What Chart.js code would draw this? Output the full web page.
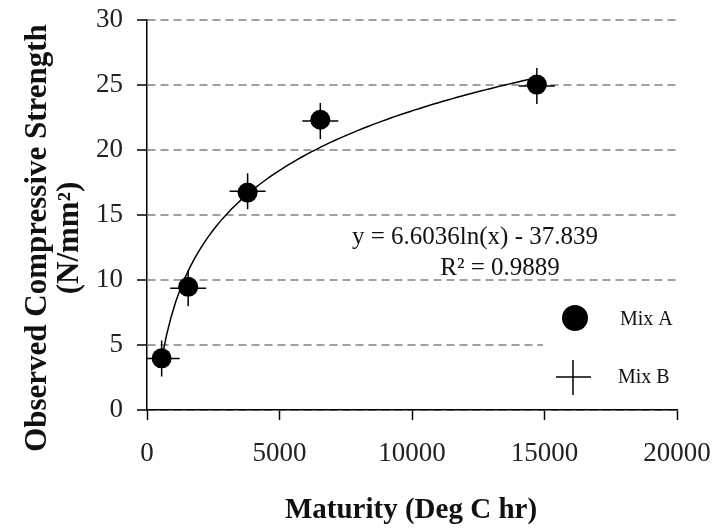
<!DOCTYPE html>
<html>
<head>
<meta charset="utf-8">
<script src="https://cdn.jsdelivr.net/npm/chart.js@4.4.1/dist/chart.umd.min.js"></script>
<style>
  body { margin: 0; background: #fff; }
  #wrap { width: 716px; height: 529px; }
</style>
</head>
<body>
<div id="wrap"><canvas id="chart" width="716" height="529"></canvas></div>
<script>
// values
const maturity = [553, 1553, 3797, 6540, 14711];
const mixA = [3.97, 9.46, 16.7, 22.3, 25.0];
const mixB = [3.95, 9.35, 16.8, 22.2, 24.9];

// trendline shown in the chart: y = 6.6036ln(x) - 37.839
const trendSlope = 6.6036;
const trendIntercept = -37.839;
const trendLabel = "y = 6.6036ln(x) - 37.839";
const r2Label = "R\u00b2 = 0.9889";

const xTicks = [0, 5000, 10000, 15000, 20000];
const yTicks = [0, 5, 10, 15, 20, 25, 30];

const serif = "'Liberation Serif', 'DejaVu Serif', serif";

// curve points along the fitted log line, over the data range
const trendPts = [];
const xMin = Math.min(...maturity), xMax = Math.max(...maturity);
for (let i = 0; i <= 80; i++) {
  const x = xMin + (xMax - xMin) * i / 80;
  trendPts.push({ x: x, y: trendSlope * Math.log(x) + trendIntercept });
}

const toPts = (xs, ys) => xs.map((x, i) => ({ x: x, y: ys[i] }));

// titles, equation and legend box
const extras = {
  id: 'extras',
  afterDraw(chart) {
    const ctx = chart.ctx;
    ctx.save();
    ctx.fillStyle = '#111';
    ctx.textAlign = 'center';
    ctx.textBaseline = 'middle';

    // y title, two lines
    ctx.font = "bold 31px " + serif;
    ctx.save();
    ctx.translate(38, 238);
    ctx.rotate(-Math.PI / 2);
    ctx.fillText("Observed Compressive Strength", 0, 0);
    ctx.restore();
    ctx.save();
    ctx.translate(70, 238);
    ctx.rotate(-Math.PI / 2);
    ctx.fillText("(N/mm\u00b2)", 0, 0);
    ctx.restore();

    // x title
    ctx.font = "bold 29px " + serif;
    ctx.fillText("Maturity (Deg C hr)", 411, 511);

    // equation
    ctx.font = "25px " + serif;
    ctx.fillText(trendLabel, 475, 237);
    ctx.fillText(r2Label, 500, 268);

    // legend
    ctx.fillStyle = '#fff';
    ctx.fillRect(543, 292, 150, 104);
    ctx.fillStyle = '#000';
    ctx.beginPath();
    ctx.arc(575, 318, 13, 0, Math.PI * 2);
    ctx.fill();
    ctx.strokeStyle = '#000';
    ctx.lineWidth = 1.5;
    ctx.beginPath();
    ctx.moveTo(556, 377); ctx.lineTo(591, 377);
    ctx.moveTo(573, 360); ctx.lineTo(573, 395);
    ctx.stroke();
    ctx.fillStyle = '#111';
    ctx.font = "20px " + serif;
    ctx.textAlign = 'left';
    ctx.fillText("Mix A", 620, 320);
    ctx.fillText("Mix B", 618, 378);
    ctx.restore();
  }
};

new Chart(document.getElementById('chart'), {
  type: 'scatter',
  data: {
    datasets: [
      {
        label: 'Mix A',
        data: toPts(maturity, mixA),
        pointStyle: 'circle',
        pointRadius: 10,
        backgroundColor: '#000',
        borderColor: '#000',
        borderWidth: 0
      },
      {
        label: 'Mix B',
        data: toPts(maturity, mixB),
        pointStyle: 'cross',
        pointRadius: 18,
        borderColor: '#000',
        borderWidth: 1.5
      },
      {
        label: 'Log. trend',
        data: trendPts,
        showLine: true,
        pointRadius: 0,
        borderColor: '#000',
        borderWidth: 1.5,
        fill: false
      }
    ]
  },
  options: {
    responsive: false,
    animation: false,
    devicePixelRatio: 1,
    layout: { padding: { top: 19, right: 39, left: 0, bottom: 0 } },
    plugins: { legend: { display: false }, tooltip: { enabled: false } },
    scales: {
      x: {
        type: 'linear',
        min: 0,
        max: 20000,
        afterFit: s => { s.height = 119; s.paddingLeft = 0; s.paddingRight = 0; },
        afterBuildTicks: s => { s.ticks = xTicks.map(v => ({ value: v })); },
        ticks: {
          font: { family: serif, size: 27 },
          color: '#222',
          padding: 18,
          maxRotation: 0,
          callback: v => String(v)
        },
        grid: {
          drawOnChartArea: false,
          drawTicks: true,
          tickLength: 10,
          tickColor: '#000',
          tickWidth: 1.5
        },
        border: { color: '#000', width: 1.5 }
      },
      y: {
        type: 'linear',
        min: 0,
        max: 30,
        afterFit: s => { s.width = 147; s.paddingTop = 0; s.paddingBottom = 0; },
        afterBuildTicks: s => { s.ticks = yTicks.map(v => ({ value: v })); },
        ticks: {
          font: { family: serif, size: 27 },
          color: '#222',
          padding: 14,
          callback: v => String(v)
        },
        grid: {
          color: '#a0a0a0',
          lineWidth: 2,
          tickLength: 10,
          tickColor: '#000',
          tickWidth: 1.5
        },
        border: { color: '#000', width: 1.5, dash: [8, 5] }
      }
    }
  },
  plugins: [extras]
});
</script>
</body>
</html>
